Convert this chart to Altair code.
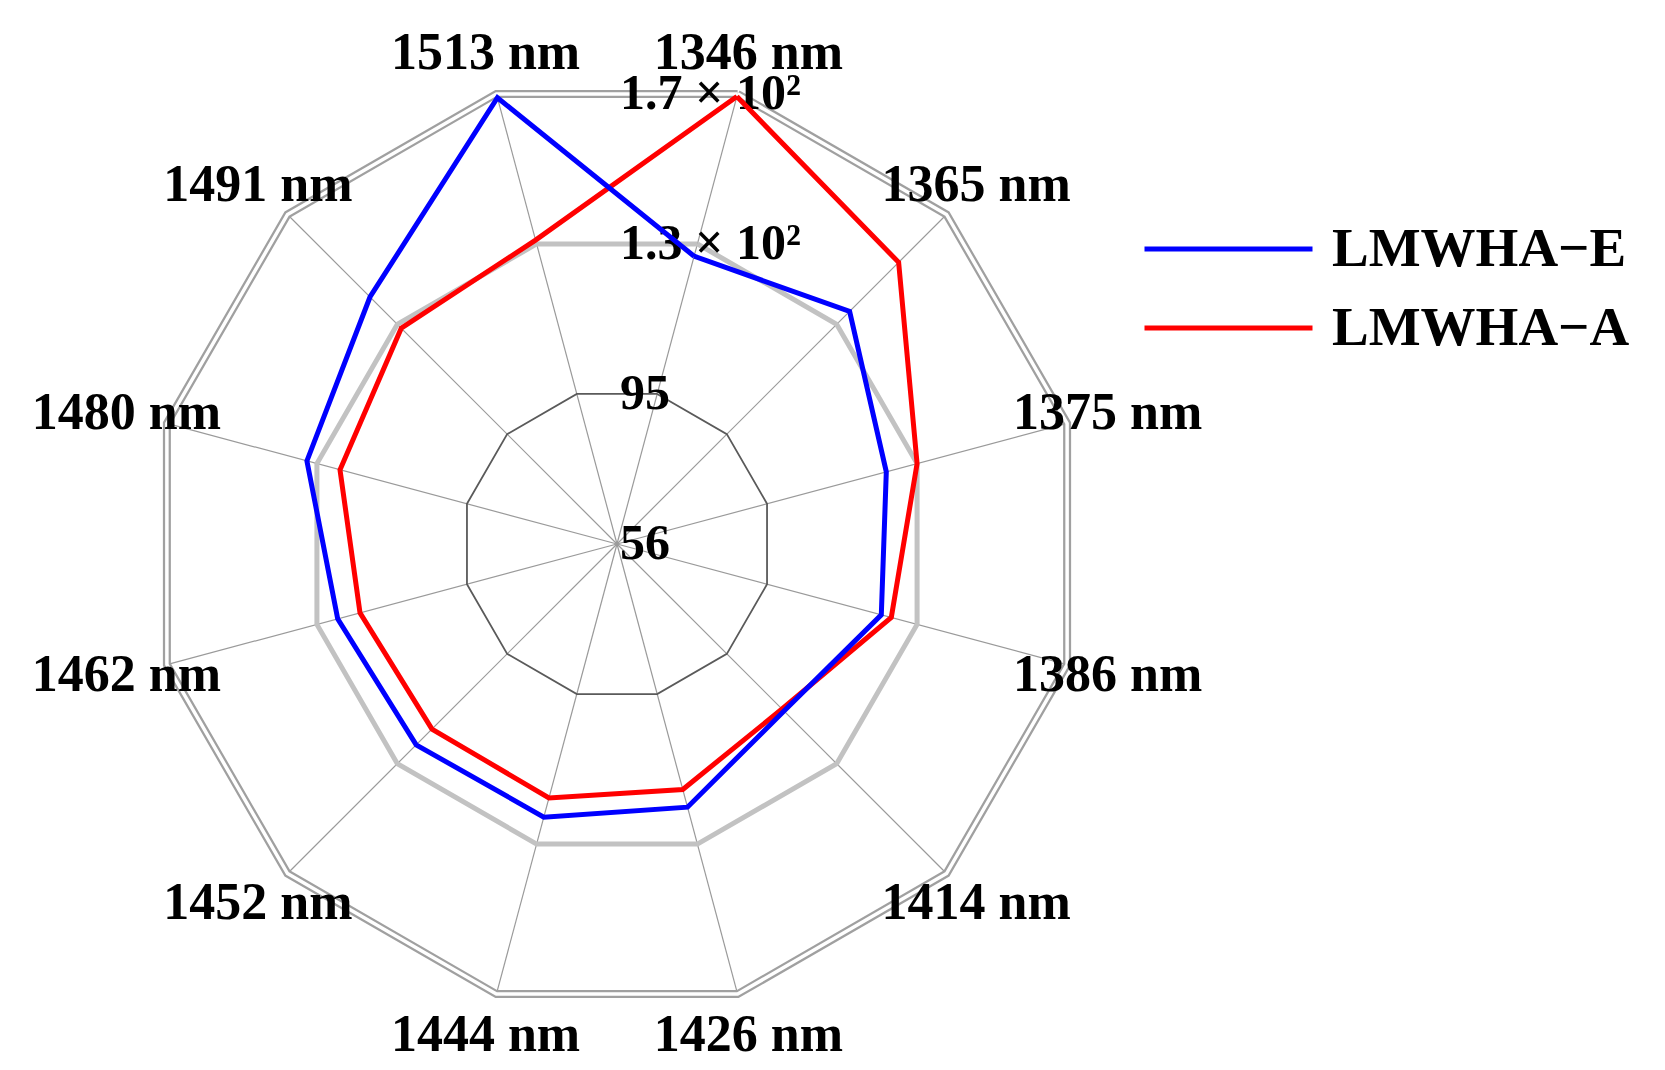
import altair as alt
import pandas as pd

# ---------------- data ----------------
wavelengths = [1346, 1365, 1375, 1386, 1414, 1426, 1444, 1452, 1462, 1480, 1491, 1513]
series_names = ["LMWHA\u2212E", "LMWHA\u2212A"]
values_E = [130.8, 138.6, 126.0, 124.7, 115.3, 124.4, 127.0, 127.3, 128.6, 136.6, 143.7, 172.0]
values_A = [172.3, 156.0, 134.0, 127.3, 114.6, 119.8, 122.0, 121.7, 122.8, 128.0, 132.6, 135.0]
ring_values = [56, 95, 134, 173]
ring_labels = ["56", "95", "1.3 \u00d7 10\u00b2", "1.7 \u00d7 10\u00b2"]
series_colors = ["#0000ff", "#ff0000"]

# ---------------- layout ----------------
W, H = 1640, 1058
CX, CY = 609, 536      # centre of the radar in plot-area pixels
PX = 466               # pixels per unit radius
XDOM = [-CX / PX, (W - CX) / PX]
YDOM = [-(H - CY) / PX, CY / PX]
N = len(wavelengths)
RMIN, RMAX = ring_values[0], ring_values[-1]
FONT = "Liberation Serif"


def X(field):
    return alt.X(field, type="quantitative", scale=alt.Scale(domain=XDOM, nice=False, zero=False), axis=None)


def Y(field):
    return alt.Y(field, type="quantitative", scale=alt.Scale(domain=YDOM, nice=False, zero=False), axis=None)


theta_expr = f"(15 + 360 / {N} * datum.k) * PI / 180"
frac_expr = f"(datum.value - {RMIN}) / ({RMAX} - {RMIN})"

# series table (closed polygons)
rows = []
for name, vals in zip(series_names, [values_E, values_A]):
    for k in range(N + 1):
        rows.append({"series": name, "k": k, "value": vals[k % N]})
series_df = pd.DataFrame(rows)

# ring table
ring_rows = []
for rv in ring_values[1:]:
    for k in range(N + 1):
        ring_rows.append({"ring": rv, "k": k, "value": rv})
ring_df = pd.DataFrame(ring_rows)

spoke_df = pd.DataFrame({"k": list(range(N)), "value": [RMAX] * N})
label_df = pd.DataFrame({"k": list(range(N)), "label": [f"{w} nm" for w in wavelengths]})
ringlab_df = pd.DataFrame({"value": ring_values, "label": ring_labels})


def polar(chart):
    return chart.transform_calculate(
        theta=theta_expr, f=frac_expr
    ).transform_calculate(
        x="datum.f * sin(datum.theta)", y="datum.f * cos(datum.theta)"
    )


# spokes
spokes = polar(alt.Chart(spoke_df)).transform_calculate(x0="0", y0="0").mark_rule(
    color="#9a9a9a", strokeWidth=1.2
).encode(x=X("x0"), y=Y("y0"), x2="x:Q", y2="y:Q")

ring_base = polar(alt.Chart(ring_df))
ring_inner = ring_base.transform_filter(alt.datum.ring == ring_values[1]).mark_line(
    color="#5a5a5a", strokeWidth=1.8
).encode(x=X("x"), y=Y("y"), order="k:Q")
ring_mid = ring_base.transform_filter(alt.datum.ring == ring_values[2]).mark_line(
    color="#c2c2c2", strokeWidth=5
).encode(x=X("x"), y=Y("y"), order="k:Q")
ring_outer_a = ring_base.transform_filter(alt.datum.ring == ring_values[3]).mark_line(
    color="#a0a0a0", strokeWidth=8
).encode(x=X("x"), y=Y("y"), order="k:Q")
ring_outer_b = ring_base.transform_filter(alt.datum.ring == ring_values[3]).mark_line(
    color="#ffffff", strokeWidth=3.5
).encode(x=X("x"), y=Y("y"), order="k:Q")

# ring value labels (on the top edge of each ring)
ring_text = alt.Chart(ringlab_df).transform_calculate(
    f=frac_expr
).transform_calculate(
    x="0", y=f"datum.f * cos(15 * PI / 180)"
).mark_text(
    font=FONT, fontWeight="bold", fontSize=50, color="#000000", align="left", baseline="middle", dx=3
).encode(x=X("x"), y=Y("y"), text="label:N")

# data lines
color_enc = alt.Color(
    "series:N",
    scale=alt.Scale(domain=series_names, range=series_colors),
    legend=alt.Legend(
        title=None, orient="none", legendX=1134, legendY=211,
        symbolType="stroke", symbolSize=168 * 168, symbolStrokeWidth=5,
        labelFont=FONT, labelFontWeight="bold", labelFontSize=55, labelColor="#000000",
        labelOffset=17, clipHeight=60, rowPadding=19, padding=0, labelLimit=0,
    ),
)
data_base = polar(alt.Chart(series_df)).mark_line(strokeWidth=5).encode(
    x=X("x"), y=Y("y"), order="k:Q", color=color_enc
)
line_A = data_base.transform_filter(alt.datum.series == series_names[1])
line_E = data_base.transform_filter(alt.datum.series == series_names[0])

# wavelength labels
labels = alt.Chart(label_df).transform_calculate(
    theta=theta_expr
).transform_calculate(
    x="1.09 * sin(datum.theta)", y="1.09 * cos(datum.theta)"
).mark_text(
    font=FONT, fontWeight="bold", fontSize=52, color="#000000", align="center", baseline="middle"
).encode(x=X("x"), y=Y("y"), text="label:N")

chart = alt.layer(
    spokes, ring_inner, ring_mid, ring_outer_a, ring_outer_b, ring_text, line_A, line_E, labels
).properties(
    width=W, height=H, padding=0, autosize=alt.AutoSizeParams(type="none"), background="white"
).configure_view(stroke=None)

chart.save("out.html", embed_options={"renderer": "svg", "actions": False})
